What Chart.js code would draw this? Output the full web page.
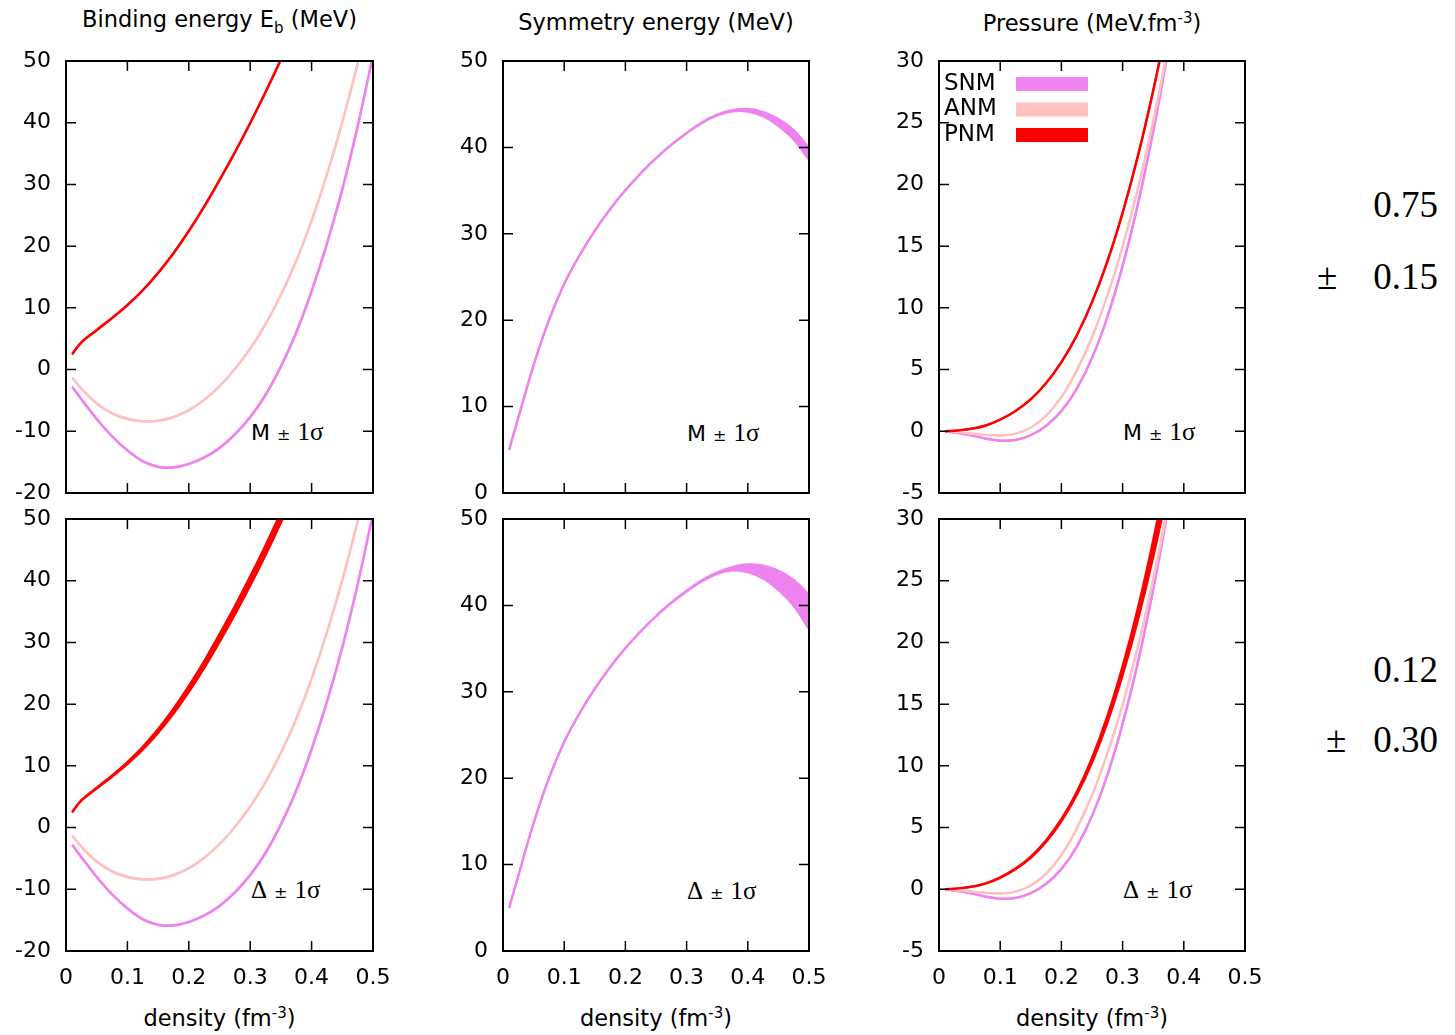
<!DOCTYPE html>
<html>
<head>
<meta charset="utf-8">
<script src="https://cdn.jsdelivr.net/npm/chart.js@4.4.0/dist/chart.umd.min.js"></script>
<style>
  html, body { margin: 0; padding: 0; background: #fff; overflow: hidden; }
  body { width: 1455px; height: 1035px; position: relative; font-family: "DejaVu Sans", Verdana, sans-serif; color: #000; }
  canvas { position: absolute; }
  .txt { position: absolute; white-space: nowrap; }
  .title { font-size: 22.5px; line-height: 28px; text-align: center; }
  .title sub, .title sup { font-size: 15px; line-height: 0; }
  .ann { font-size: 22px; line-height: 28px; }
  .ann .pm { font-size: 16px; }
  .serif { font-family: "Liberation Serif", "Times New Roman", serif; }
  .ann .serif { font-size: 25px; }
  .num { font-family: "Liberation Serif", "Times New Roman", serif; font-size: 37px; line-height: 36px; }
</style>
</head>
<body>
<div class="txt title" style="left:66px;width:307px;top:5px">Binding energy E<sub>b</sub> (MeV)</div>
<div class="txt title" style="left:503px;width:306px;top:8px">Symmetry energy (MeV)</div>
<div class="txt title" style="left:939px;width:306px;top:9px">Pressure (MeV.fm<sup>-3</sup>)</div>

<div class="txt title" style="left:66px;width:307px;top:1004px">density (fm<sup>-3</sup>)</div>
<div class="txt title" style="left:503px;width:306px;top:1004px">density (fm<sup>-3</sup>)</div>
<div class="txt title" style="left:939px;width:306px;top:1004px">density (fm<sup>-3</sup>)</div>

<div class="txt ann" style="left:251px;top:418px">M <span class="pm">±</span> <span class="serif">1σ</span></div>
<div class="txt ann" style="left:687px;top:419px">M <span class="pm">±</span> <span class="serif">1σ</span></div>
<div class="txt ann" style="left:1123px;top:418px">M <span class="pm">±</span> <span class="serif">1σ</span></div>
<div class="txt ann" style="left:251px;top:876px"><span class="serif">Δ</span> <span class="pm">±</span> <span class="serif">1σ</span></div>
<div class="txt ann" style="left:687px;top:877px"><span class="serif">Δ</span> <span class="pm">±</span> <span class="serif">1σ</span></div>
<div class="txt ann" style="left:1123px;top:876px"><span class="serif">Δ</span> <span class="pm">±</span> <span class="serif">1σ</span></div>

<div class="txt num" style="left:1300px;width:138px;text-align:right;top:187px">0.75</div>
<div class="txt num" style="left:1317px;top:259px">±</div>
<div class="txt num" style="left:1300px;width:138px;text-align:right;top:259px">0.15</div>
<div class="txt num" style="left:1300px;width:138px;text-align:right;top:652px">0.12</div>
<div class="txt num" style="left:1326px;top:722px">±</div>
<div class="txt num" style="left:1300px;width:138px;text-align:right;top:722px">0.30</div>

<script>
// density grid (fm^-3)
const density = [0.01, 0.025, 0.05, 0.075, 0.1, 0.125, 0.15, 0.175, 0.2, 0.225, 0.25,
                 0.275, 0.3, 0.325, 0.35, 0.375, 0.4, 0.425, 0.45, 0.475, 0.5];

// binding energy E_b (MeV), central values
const ebSNM = [-2.8, -4.8, -8.0, -10.8, -13.1, -14.85, -15.75, -15.85, -15.3, -14.25, -12.7,
               -10.5, -7.7, -4.1, 0.5, 6.0, 12.7, 20.4, 29.2, 39.4, 50.9];
const ebANM = [-1.3, -3.1, -5.5, -7.1, -8.0, -8.4, -8.3, -7.7, -6.6, -4.9, -2.7,
               0.1, 3.4, 7.4, 12.1, 17.6, 24.1, 31.6, 40.1, 49.6, 60.0];
const ebPNM = [2.5, 4.4, 6.4, 8.35, 10.45, 12.85, 15.65, 18.85, 22.45, 26.4, 30.7,
               35.2, 39.95, 44.95, 50.25, 55.85, 61.75, 67.95, 74.45, 81.25, 88.35];

// symmetry energy (MeV)
const symEnergy = [5.0, 8.7, 14.8, 20.0, 24.2, 27.5, 30.35, 32.85, 35.05, 37.0, 38.75,
                   40.3, 41.65, 42.85, 43.75, 44.25, 44.3, 43.85, 42.9, 41.45, 39.25];

// pressure (MeV.fm^-3)
const presSNM = [0.0, -0.1, -0.3, -0.58, -0.76, -0.71, -0.31, 0.44, 1.64, 3.44, 5.94,
                 9.24, 13.39, 18.39, 24.29, 31.09, 38.79, 47.4, 56.9, 67.2, 78.3];
const presANM = [0.0, -0.05, -0.17, -0.29, -0.34, -0.19, 0.31, 1.26, 2.76, 4.91, 7.61,
                 10.96, 14.96, 19.66, 25.11, 31.36, 38.46, 46.4, 55.2, 64.9, 75.4];
const presPNM = [0.0, 0.05, 0.18, 0.45, 0.95, 1.65, 2.6, 3.9, 5.6, 7.75, 10.45,
                 13.75, 17.7, 22.3, 27.6, 33.6, 40.3, 47.7, 55.8, 64.6, 74.1];

// 1 sigma half widths
const sigmaEbM    = [0.05, 0.05, 0.05, 0.05, 0.05, 0.05, 0.05, 0.05, 0.05, 0.05, 0.05,
                     0.06, 0.06, 0.07, 0.08, 0.09, 0.1, 0.11, 0.12, 0.13, 0.15];
const sigmaEbPNMD = [0.05, 0.05, 0.08, 0.12, 0.18, 0.25, 0.33, 0.42, 0.5, 0.58, 0.65,
                     0.72, 0.78, 0.82, 0.86, 0.9, 0.95, 1.0, 1.1, 1.2, 1.3];
const sigmaSymM   = [0.02, 0.02, 0.02, 0.02, 0.02, 0.02, 0.02, 0.02, 0.02, 0.02, 0.02,
                     0.02, 0.02, 0.03, 0.05, 0.08, 0.15, 0.25, 0.4, 0.55, 0.7];
const sigmaSymD   = [0.02, 0.02, 0.02, 0.02, 0.02, 0.02, 0.02, 0.02, 0.02, 0.02, 0.03,
                     0.04, 0.05, 0.07, 0.1, 0.2, 0.45, 0.75, 1.1, 1.5, 2.0];
const sigmaPM     = [0.01, 0.01, 0.01, 0.01, 0.01, 0.01, 0.01, 0.02, 0.02, 0.03, 0.03,
                     0.04, 0.05, 0.06, 0.07, 0.08, 0.1, 0.12, 0.14, 0.16, 0.18];
const sigmaPPNMD  = [0.01, 0.01, 0.01, 0.02, 0.03, 0.04, 0.06, 0.08, 0.1, 0.14, 0.2,
                     0.28, 0.38, 0.5, 0.7, 0.9, 1.1, 1.3, 1.5, 1.7, 1.9];

const legendNames = ['SNM', 'ANM', 'PNM'];
const colors = { SNM: '#ee82ee', ANM: '#ffc0c0', PNM: '#ff0000' };

const cols = [{ left: 66, width: 307 }, { left: 503, width: 306 }, { left: 939, width: 306 }];
const rows = [{ top: 61, height: 432 }, { top: 519, height: 432 }];

const panels = [
    { row: 0, col: 0, y: [-20, 50, 10], bands: [['PNM', ebPNM, sigmaEbM], ['ANM', ebANM, sigmaEbM], ['SNM', ebSNM, sigmaEbM]] },
    { row: 0, col: 1, y: [0, 50, 10], bands: [['SNM', symEnergy, sigmaSymM]] },
    { row: 0, col: 2, y: [-5, 30, 5], bands: [['PNM', presPNM, sigmaPM], ['ANM', presANM, sigmaPM], ['SNM', presSNM, sigmaPM]], legend: true },
    { row: 1, col: 0, y: [-20, 50, 10], bands: [['PNM', ebPNM, sigmaEbPNMD], ['ANM', ebANM, sigmaEbM], ['SNM', ebSNM, sigmaEbM]] },
    { row: 1, col: 1, y: [0, 50, 10], bands: [['SNM', symEnergy, sigmaSymD]] },
    { row: 1, col: 2, y: [-5, 30, 5], bands: [['PNM', presPNM, sigmaPPNMD], ['ANM', presANM, sigmaPM], ['SNM', presSNM, sigmaPM]] }
];

const tickFont = { family: '"DejaVu Sans", Verdana, sans-serif', size: 22 };

// box round the plot with inward ticks on all four sides
const framePlugin = {
    id: 'frame',
    afterDatasetsDraw(chart) {
        const { ctx, chartArea: a, scales: { x, y } } = chart;
        ctx.save();
        ctx.strokeStyle = '#000';
        ctx.lineWidth = 1.5;
        ctx.beginPath();
        x.ticks.forEach(t => {
            const px = x.getPixelForValue(t.value);
            ctx.moveTo(px, a.bottom); ctx.lineTo(px, a.bottom - 10);
            ctx.moveTo(px, a.top); ctx.lineTo(px, a.top + 10);
        });
        y.ticks.forEach(t => {
            const py = y.getPixelForValue(t.value);
            ctx.moveTo(a.left, py); ctx.lineTo(a.left + 10, py);
            ctx.moveTo(a.right, py); ctx.lineTo(a.right - 10, py);
        });
        ctx.stroke();
        ctx.lineWidth = 2;
        ctx.strokeRect(a.left, a.top, a.right - a.left, a.bottom - a.top);
        ctx.restore();
    }
};

// gnuplot-like key: name then a thick colour bar
const bandLegend = {
    id: 'bandLegend',
    afterDatasetsDraw(chart, args, opts) {
        if (!opts.items) return;
        const { ctx, chartArea: a } = chart;
        ctx.save();
        ctx.font = '23px "DejaVu Sans", Verdana, sans-serif';
        ctx.textBaseline = 'middle';
        opts.items.forEach((name, i) => {
            const cy = a.top + 23 + i * 25.5;
            ctx.fillStyle = '#000';
            ctx.fillText(name, a.left + 5, cy);
            ctx.fillStyle = colors[name];
            ctx.fillRect(a.left + 77, cy - 7, 72, 14);
        });
        ctx.restore();
    }
};

function bandDatasets(name, center, sigma) {
    const common = {
        borderColor: colors[name],
        backgroundColor: colors[name],
        borderWidth: 2.2,
        pointRadius: 0,
        tension: 0.35
    };
    return [
        { ...common, label: name, fill: '+1',
          data: density.map((d, i) => ({ x: d, y: center[i] + sigma[i] })) },
        { ...common, label: name + ' (lower)', fill: false,
          data: density.map((d, i) => ({ x: d, y: center[i] - sigma[i] })) }
    ];
}

panels.forEach(p => {
    const col = cols[p.col], row = rows[p.row];
    const bottomRow = p.row === 1;
    const w = col.width + 70 + 22;
    const h = row.height + 14 + (bottomRow ? 45 : 14);
    const canvas = document.createElement('canvas');
    canvas.width = w;
    canvas.height = h;
    canvas.style.left = (col.left - 70) + 'px';
    canvas.style.top = (row.top - 14) + 'px';
    canvas.style.width = w + 'px';
    canvas.style.height = h + 'px';
    document.body.appendChild(canvas);

    let datasets = [];
    p.bands.forEach(([name, center, sigma]) => {
        datasets = datasets.concat(bandDatasets(name, center, sigma));
    });

    new Chart(canvas, {
        type: 'line',
        data: { datasets },
        options: {
            responsive: false,
            animation: false,
            layout: { padding: { left: 0, top: 14, right: 22, bottom: bottomRow ? 0 : 14 } },
            plugins: {
                legend: { display: false },
                tooltip: { enabled: false },
                bandLegend: { items: p.legend ? legendNames : null }
            },
            scales: {
                x: {
                    type: 'linear',
                    min: 0,
                    max: 0.5,
                    ticks: { stepSize: 0.1, display: bottomRow, padding: 14, color: '#000', font: tickFont },
                    grid: { display: false, drawTicks: false },
                    border: { display: false },
                    afterFit(s) { s.height = bottomRow ? 45 : 0; s.paddingLeft = 0; s.paddingRight = 0; }
                },
                y: {
                    min: p.y[0],
                    max: p.y[1],
                    ticks: { stepSize: p.y[2], padding: 15, color: '#000', font: tickFont },
                    grid: { display: false, drawTicks: false },
                    border: { display: false },
                    afterFit(s) { s.width = 70; s.paddingTop = 0; s.paddingBottom = 0; }
                }
            }
        },
        plugins: [framePlugin, bandLegend]
    });
});
</script>
</body>
</html>
